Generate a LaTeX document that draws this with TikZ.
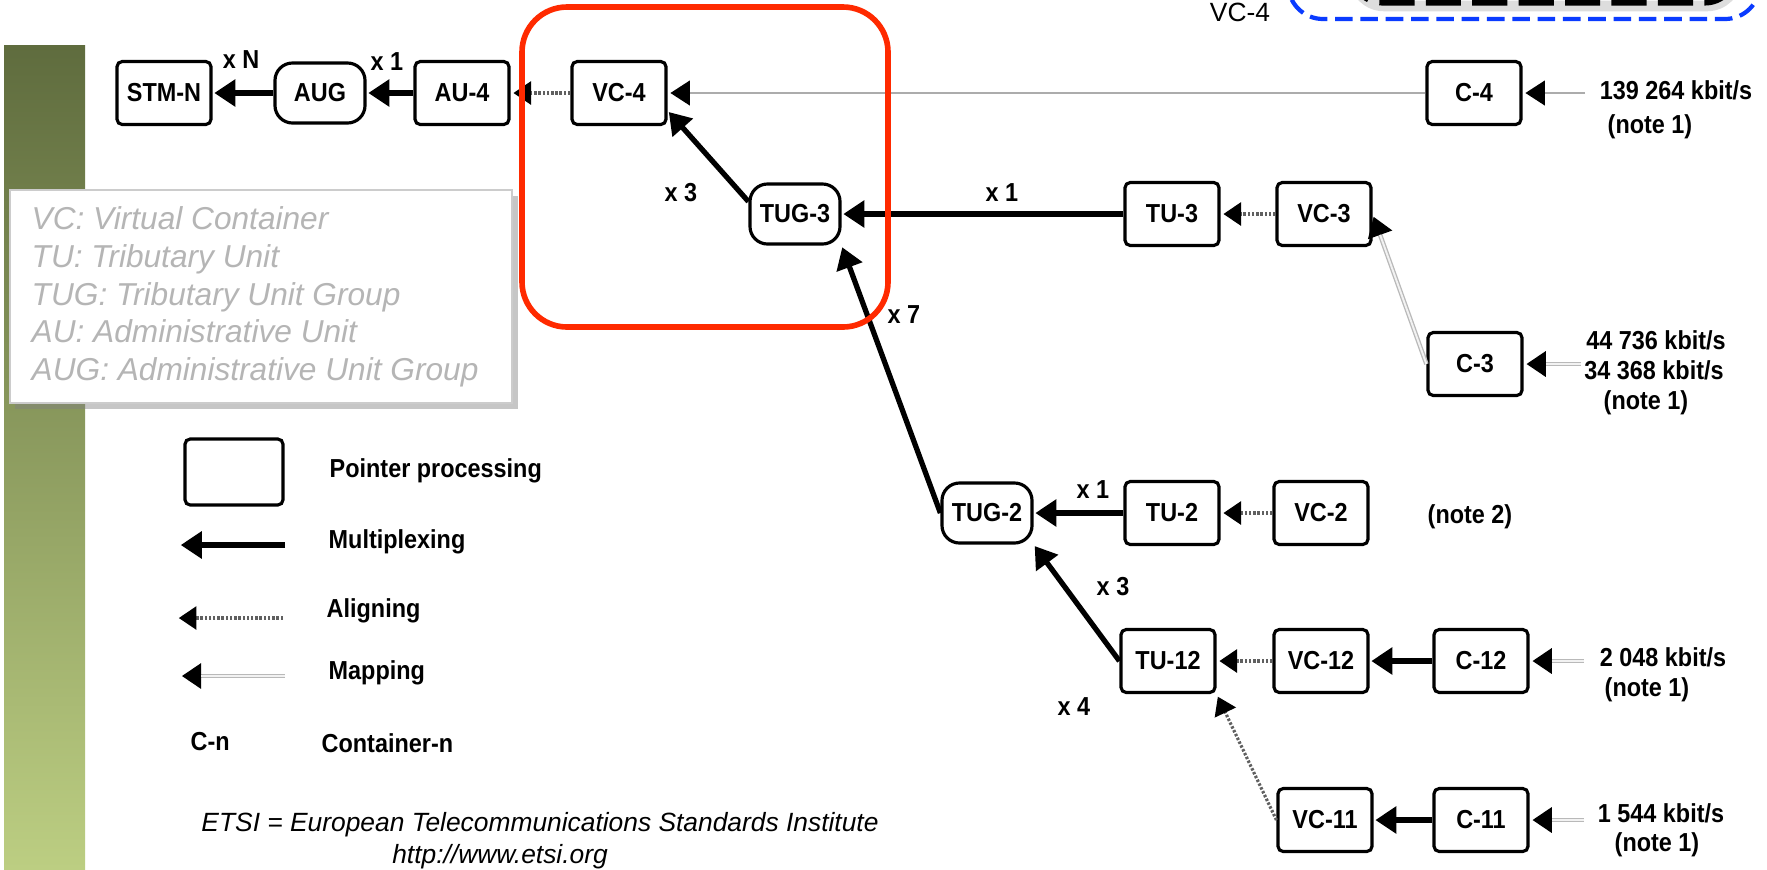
\documentclass[tikz,border=0pt]{standalone}
\usepackage{fontspec}
\setmainfont{Liberation Sans}
\newfontfamily\diagfont[FakeStretch=0.9]{Liberation Sans}
\usetikzlibrary{arrows.meta,shadows}
\definecolor{framered}{HTML}{FF2A00}
\definecolor{dashblue}{HTML}{0A3BFF}
\definecolor{bartop}{HTML}{5F6C3E}
\definecolor{barbot}{HTML}{BCCE82}
\definecolor{legendgray}{HTML}{B5B5B5}

\begin{document}
\begin{tikzpicture}[
  x=0.01cm, y=-0.01cm,
  lbl/.style={font=\diagfont\fontsize{7.4}{8.5}\selectfont\bfseries, inner sep=0pt},
  ptrbox/.style={draw, line width=0.9pt, rounded corners=1.5pt, lbl,
    minimum width=0.94cm, minimum height=0.63cm},
  grpbox/.style={ptrbox, rounded corners=5pt, minimum width=0.9cm,
    minimum height=0.6cm},
  multiplex/.style={-{Triangle[length=6pt,width=7.5pt]}, line width=1.5pt,
    shorten >=0.5pt},
  aligning/.style={-{Triangle[length=5pt,width=6.5pt,color=black]},
    line width=0.9pt, draw=gray!75!black, dash pattern=on 0.7pt off 0.5pt,
    shorten >=0.8pt},
  mapping/.style={-{Triangle[length=5.5pt,width=7pt,color=black]},
    line width=1.3pt, draw=gray!55, shorten >=0.8pt,
    postaction={draw=gray!10, line width=0.55pt, -, shorten >=6.3pt}},
  mapthin/.style={-{Triangle[length=5.5pt,width=7pt,color=black]},
    line width=0.5pt, draw=gray!65, shorten >=0.8pt},
  legendtext/.style={font=\fontsize{9}{10.7}\selectfont\itshape,
    text=legendgray, align=left, inner sep=0pt},
  note/.style={font=\fontsize{7.5}{9}\selectfont\itshape, inner sep=0pt}
]
\useasboundingbox (0,0) rectangle (1767,869);
\clip (0,0) rectangle (1767,869);
% side bar and cut-off slide parts
\shade[top color=bartop, bottom color=barbot] (4,45) rectangle (85,869);
\node[font=\fontsize{7.5}{9}\selectfont, anchor=north, inner sep=0pt] (vctag)
  at (1240,2) {VC-4};
\draw[gray!45, line width=3pt, opacity=0.6, rounded corners=0.3cm]
  (1354,-60) rectangle (1737,6);
\draw[line width=2pt, dash pattern=on 10pt off 3.2pt, rounded corners=0.3cm]
  (1352,-60) rectangle (1735,2);
\draw[dashblue, line width=1.2pt, dash pattern=on 5pt off 2.2pt,
  rounded corners=0.35cm] (1288,-60) rectangle (1760,19);
% abbreviations
\node[draw=gray!40, fill=white, minimum width=5.02cm, minimum height=2.13cm,
  drop shadow={shadow xshift=1.6pt, shadow yshift=-1.6pt, fill=gray,
  opacity=0.45}] (abbrbox) at (261,296.5) {};
\node[legendtext, anchor=west] (abbr) at (31,297)
  {VC: Virtual Container\\TU: Tributary Unit\\TUG: Tributary Unit Group\\
   AU: Administrative Unit\\AUG: Administrative Unit Group};
% top row
\node[ptrbox] (stmn) at (164,93) {STM-N};
\node[grpbox] (aug) at (320,93) {AUG};
\node[ptrbox] (au4) at (462,93) {AU-4};
\node[ptrbox] (vc4) at (619,93) {VC-4};
\node[ptrbox] (c4) at (1474,93) {C-4};
\coordinate (in4) at (1585,93);
\draw[multiplex] (aug) -- (stmn);
\draw[multiplex] (au4) -- (aug);
\draw[aligning] (vc4) -- (au4);
\draw[mapthin] (c4) -- (vc4);
\draw[mapthin] (in4) -- (c4);
\node[lbl] (mulN) at (241,60) {x N};
\node[lbl] (mulA) at (387,62) {x 1};
\node[lbl] (rate4) at (1676,90) {139 264 kbit/s};
\node[lbl] (note4) at (1650,127) {(note 1)};
% TUG-3 row
\node[grpbox] (tug3) at (795,214) {TUG-3};
\node[ptrbox] (tu3) at (1172,214) {TU-3};
\node[ptrbox] (vc3) at (1324,214) {VC-3};
\node[ptrbox] (c3) at (1475,364) {C-3};
\coordinate (in3) at (1581,364);
\draw[multiplex] (tug3.165) -- (vc4.-20);
\draw[multiplex] (tu3) -- (tug3);
\draw[aligning] (vc3) -- (tu3);
\draw[mapping] (c3.west) -- (vc3.east);
\draw[mapping] (in3) -- (c3);
\node[lbl] (mul3) at (681,193) {x 3};
\node[lbl] (mulB) at (1002,193) {x 1};
\node[lbl] (rate3a) at (1656,340) {44 736 kbit/s};
\node[lbl] (rate3b) at (1654,370) {34 368 kbit/s};
\node[lbl] (note3) at (1646,403) {(note 1)};
% TUG-2 row
\node[grpbox] (tug2) at (987,513) {TUG-2};
\node[ptrbox] (tu2) at (1172,513) {TU-2};
\node[ptrbox] (vc2) at (1321,513) {VC-2};
\draw[multiplex] (tug2.west) -- (tug3.south east);
\draw[multiplex] (tu2) -- (tug2);
\draw[aligning] (vc2) -- (tu2);
\node[lbl] (mul7) at (904,315) {x 7};
\node[lbl] (mulC) at (1093,490) {x 1};
\node[lbl] (note2) at (1470,517) {(note 2)};
% TU-12 row
\node[ptrbox] (tu12) at (1168,661) {TU-12};
\node[ptrbox] (vc12) at (1321,661) {VC-12};
\node[ptrbox] (c12) at (1481,661) {C-12};
\coordinate (in12) at (1584,661);
\draw[multiplex] (tu12.west) -- (tug2.south east);
\draw[aligning] (vc12) -- (tu12);
\draw[multiplex] (c12) -- (vc12);
\draw[mapping] (in12) -- (c12);
\node[lbl] (mulD) at (1113,587) {x 3};
\node[lbl] (mul4) at (1074,707) {x 4};
\node[lbl] (rate12) at (1663,657) {2 048 kbit/s};
\node[lbl] (note12) at (1647,690) {(note 1)};
% VC-11 row
\node[ptrbox] (vc11) at (1325,820) {VC-11};
\node[ptrbox] (c11) at (1481,820) {C-11};
\coordinate (in11) at (1584,820);
\draw[aligning] (vc11.west) -- (tu12.south east);
\draw[multiplex] (c11) -- (vc11);
\draw[mapping] (in11) -- (c11);
\node[lbl] (rate11) at (1661,813) {1 544 kbit/s};
\node[lbl] (note11) at (1657,845) {(note 1)};
% key
\node[ptrbox, minimum width=0.98cm, minimum height=0.66cm] (keybox)
  at (234,472) {};
\node[lbl, anchor=west] (keyptr) at (329,471) {Pointer processing};
\coordinate (muxR) at (285,545);
\coordinate (muxL) at (179,545);
\draw[multiplex] (muxR) -- (muxL);
\node[lbl, anchor=west] (keymux) at (328,542) {Multiplexing};
\coordinate (alnR) at (283,618);
\coordinate (alnL) at (176,618);
\draw[aligning] (alnR) -- (alnL);
\node[lbl, anchor=west] (keyaln) at (326,611) {Aligning};
\coordinate (mapR) at (285,676);
\coordinate (mapL) at (179,676);
\draw[mapping] (mapR) -- (mapL);
\node[lbl, anchor=west] (keymap) at (328,673) {Mapping};
\node[lbl, anchor=west] (keycn) at (190,742) {C-n};
\node[lbl, anchor=west] (keycont) at (321,743) {Container-n};
\node[note] (etsi) at (540,825)
  {ETSI = European Telecommunications Standards Institute};
\node[note] (url) at (500,857) {http://www.etsi.org};
% highlight
\draw[framered, line width=1.6pt, rounded corners=0.45cm]
  (522,7) rectangle (888,327);
\end{tikzpicture}
\end{document}
